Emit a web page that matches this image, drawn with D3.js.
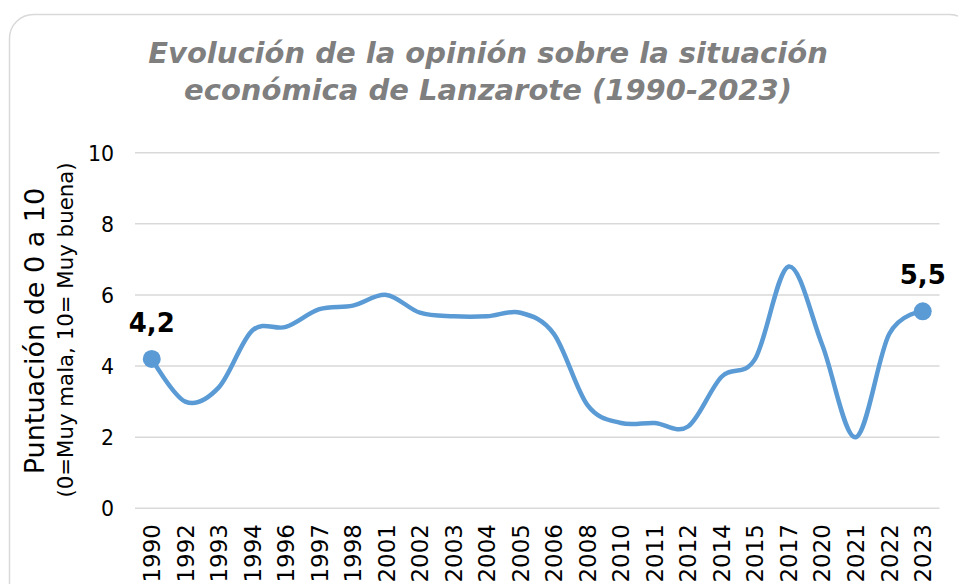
<!DOCTYPE html>
<html>
<head>
<meta charset="utf-8">
<script src="https://cdn.jsdelivr.net/npm/d3@7"></script>
<style>
  html, body { margin: 0; padding: 0; background: #ffffff; }
  svg { display: block; }
</style>
</head>
<body>
<svg id="chart" width="958" height="584"></svg>
<script>
// ---- data ----
const years = ["1990","1992","1993","1994","1996","1997","1998","2001","2002","2003","2004","2005",
               "2006","2008","2010","2011","2012","2014","2015","2017","2020","2021","2022","2023"];
const scores = [4.2, 3.0, 3.4, 5.0, 5.1, 5.6, 5.7, 6.0, 5.5, 5.4, 5.4, 5.5,
                4.9, 2.9, 2.4, 2.4, 2.3, 3.7, 4.2, 6.8, 4.6, 2.0, 4.9, 5.54];
const yTicks = [0, 2, 4, 6, 8, 10];
const titleLines = ["Evolución de la opinión sobre la situación", "económica de Lanzarote (1990-2023)"];
const yTitle = "Puntuación de 0 a 10";
const ySubtitle = "(0=Muy mala, 10= Muy buena)";

// ---- drawing ----
const svg = d3.select("#chart");
const FONT = "'DejaVu Sans', Verdana, sans-serif";

svg.append("rect").attr("x", 0).attr("y", 0).attr("width", 958).attr("height", 584).attr("fill", "#fff");
svg.append("rect")
  .attr("x", 9.5).attr("y", 14.5).attr("width", 964).attr("height", 640)
  .attr("rx", 24).attr("ry", 24)
  .attr("fill", "#fff").attr("stroke", "#d9d9d9").attr("stroke-width", 1.5);

const x = d3.scaleBand().domain(years).range([135, 939.5]);
const y = d3.scaleLinear().domain([0, 10]).range([508.3, 152.7]);
const cx = d => x(d) + x.bandwidth() / 2;

// title
const title = svg.append("text")
  .attr("text-anchor", "middle")
  .attr("font-family", FONT).attr("font-size", 29).attr("font-weight", "bold").attr("font-style", "italic")
  .attr("fill", "#7f7f7f");
title.selectAll("tspan").data(titleLines).join("tspan")
  .attr("x", 488).attr("y", (d, i) => 63 + i * 37).text(d => d);

// gridlines
svg.append("g").selectAll("line").data(yTicks).join("line")
  .attr("x1", 135).attr("x2", 939.5)
  .attr("y1", d => y(d)).attr("y2", d => y(d))
  .attr("stroke", "#d9d9d9").attr("stroke-width", 1.5);

// y axis labels
const yAxis = d3.axisLeft(y).tickValues(yTicks).tickSize(0).tickPadding(0).tickFormat(d3.format("d"));
const gy = svg.append("g").attr("transform", "translate(114,0)").call(yAxis);
gy.select(".domain").remove();
gy.selectAll("text").attr("font-family", FONT).attr("font-size", 20.5).attr("fill", "#000").attr("dy", "0.36em");

// x axis labels
const xAxis = d3.axisBottom(x).tickSize(0).tickPadding(0);
const gx = svg.append("g").attr("transform", "translate(0,524)").call(xAxis);
gx.select(".domain").remove();
gx.selectAll("text")
  .attr("font-family", FONT).attr("font-size", 23).attr("fill", "#000")
  .attr("transform", "rotate(-90)")
  .attr("text-anchor", "end")
  .attr("x", 0).attr("y", 0).attr("dy", "0.36em");

// y axis titles
svg.append("text")
  .attr("transform", "translate(44,331) rotate(-90)")
  .attr("text-anchor", "middle")
  .attr("font-family", FONT).attr("font-size", 27).attr("fill", "#000")
  .text(yTitle);
svg.append("text")
  .attr("transform", "translate(73,330) rotate(-90)")
  .attr("text-anchor", "middle")
  .attr("font-family", FONT).attr("font-size", 21.3).attr("fill", "#000")
  .text(ySubtitle);

// line
const line = d3.line()
  .x((d, i) => cx(years[i]))
  .y(d => y(d))
  .curve(d3.curveCatmullRom.alpha(0));
svg.append("path").datum(scores)
  .attr("d", line)
  .attr("fill", "none").attr("stroke", "#5b9bd5").attr("stroke-width", 4.5)
  .attr("stroke-linejoin", "round").attr("stroke-linecap", "round");

// end markers + labels
const ends = [0, scores.length - 1];
svg.append("g").selectAll("circle").data(ends).join("circle")
  .attr("cx", i => cx(years[i])).attr("cy", i => y(scores[i]))
  .attr("r", 9).attr("fill", "#5b9bd5");
const fmt = v => v.toFixed(1).replace(".", ",");
svg.append("g").selectAll("text").data(ends).join("text")
  .attr("x", i => cx(years[i])).attr("y", i => y(scores[i]) - 27)
  .attr("text-anchor", "middle")
  .attr("font-family", FONT).attr("font-size", 26).attr("font-weight", "bold").attr("fill", "#000")
  .text(i => fmt(scores[i]));
</script>
</body>
</html>
